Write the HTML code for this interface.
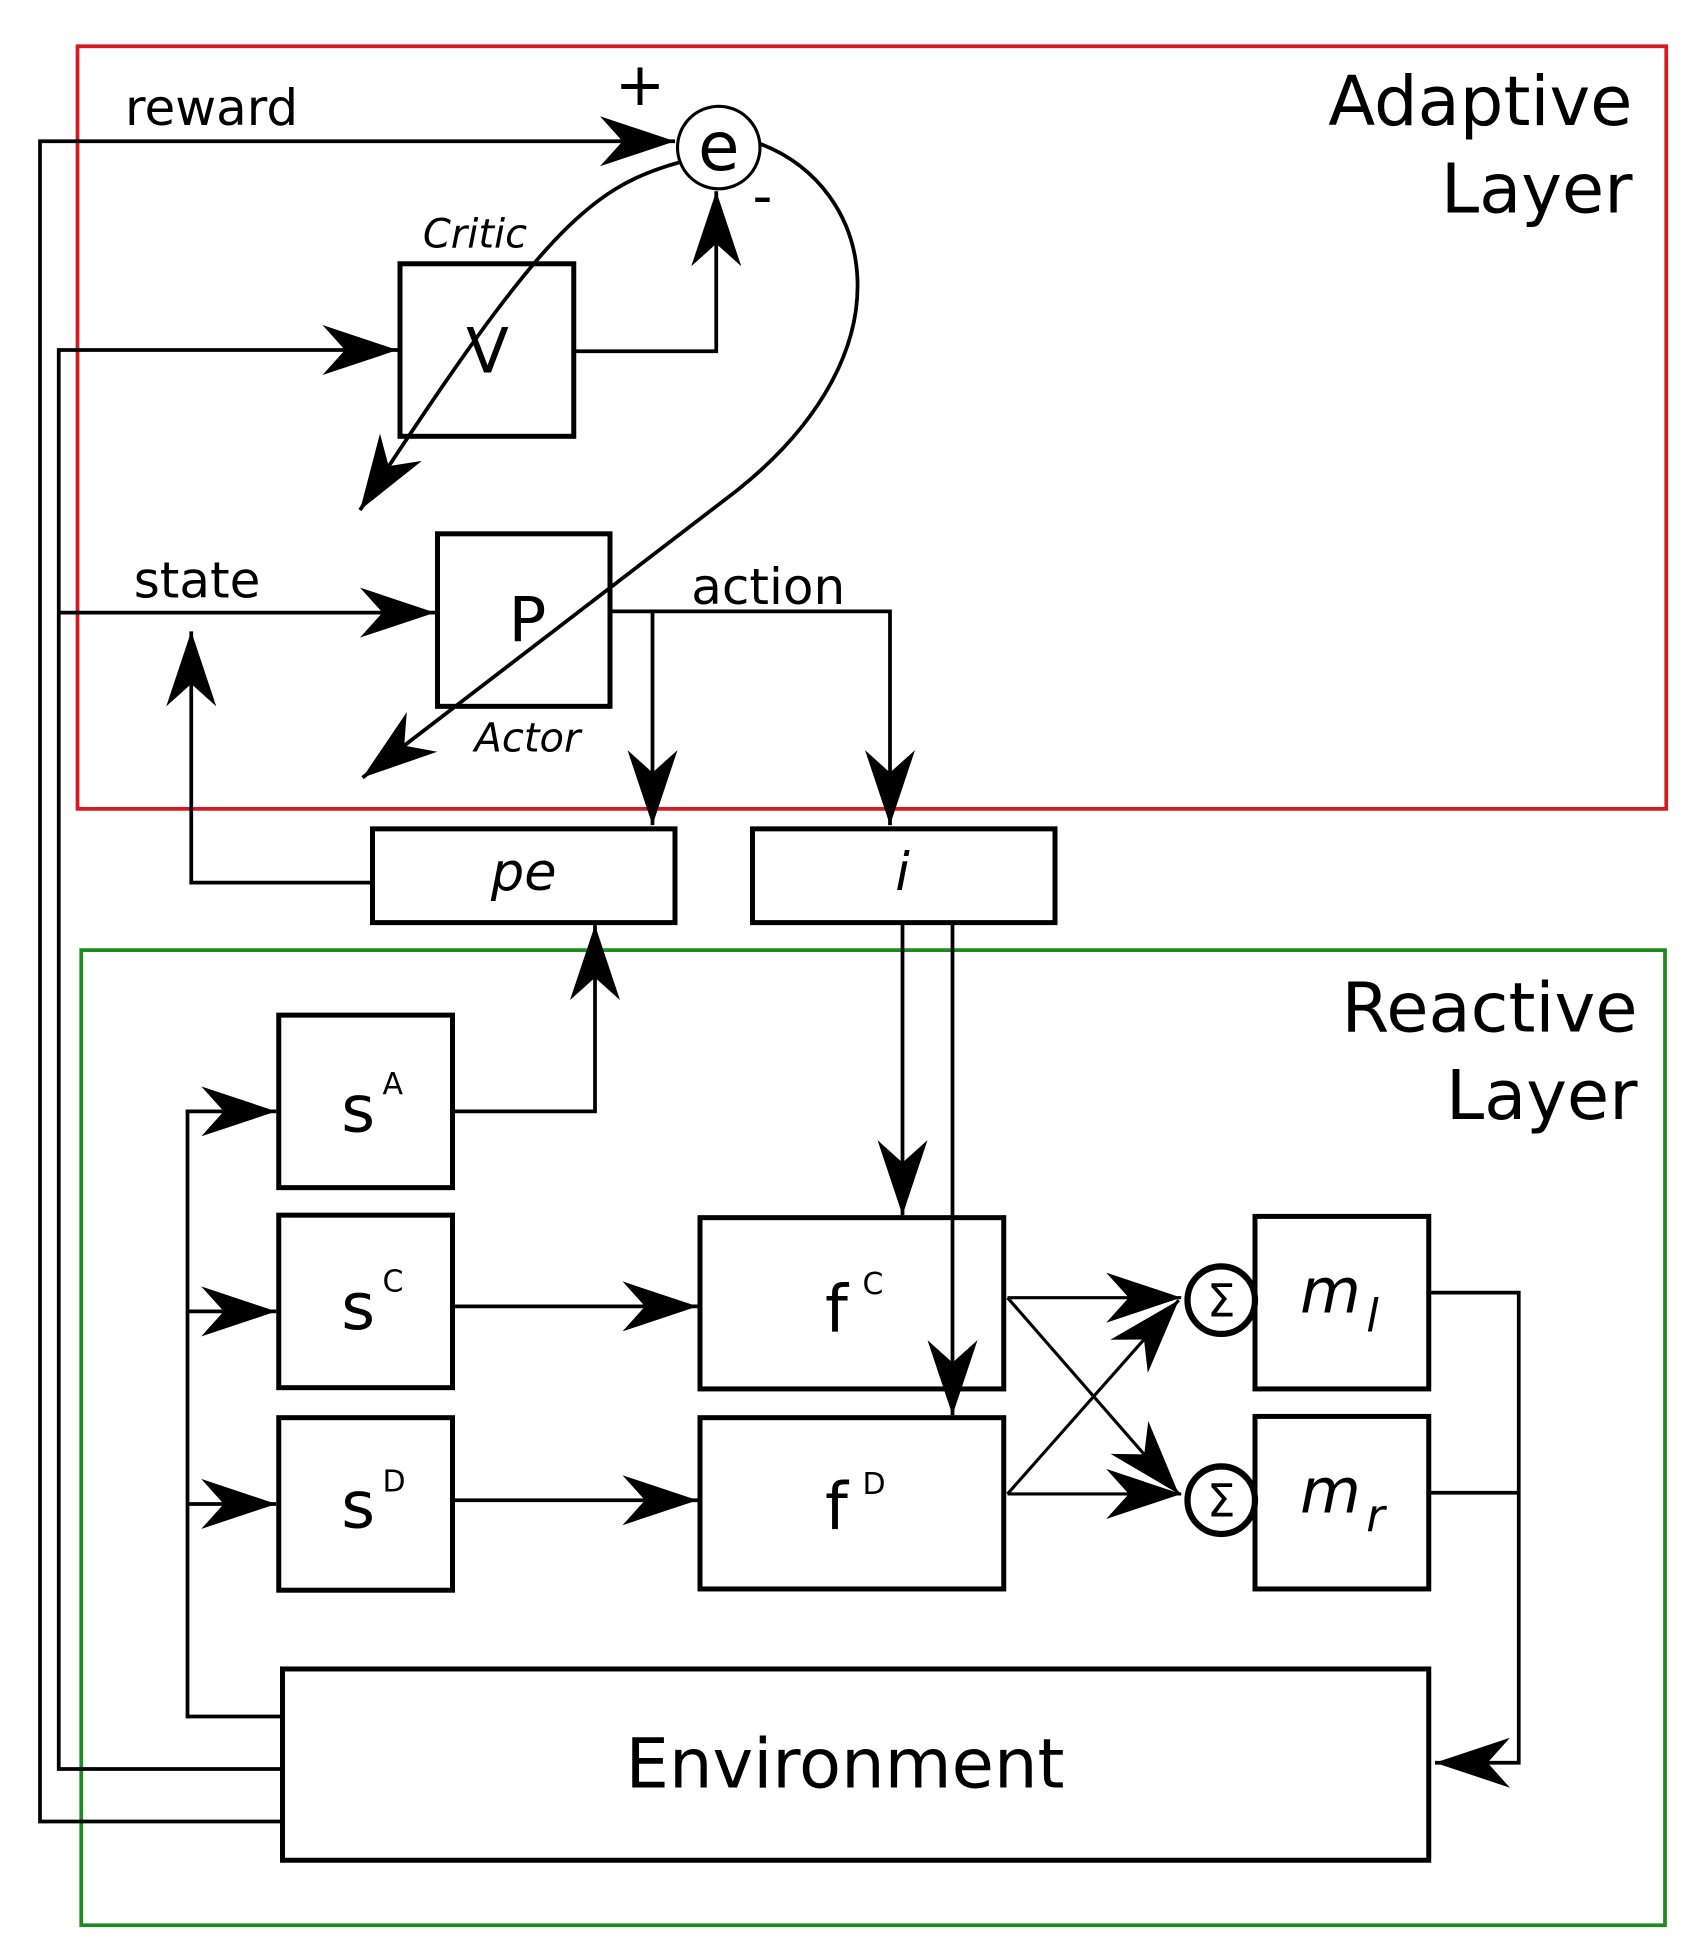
<!DOCTYPE html>
<html><head><meta charset="utf-8"><style>
html,body{margin:0;padding:0;background:#fff;}
svg{display:block;}
text{font-family:"DejaVu Sans","Liberation Sans",sans-serif;fill:#000;}
</style></head><body>
<svg width="1700" height="1959" viewBox="0 0 1360 1567" preserveAspectRatio="none" xmlns="http://www.w3.org/2000/svg">
<defs>
<marker id="a" markerUnits="userSpaceOnUse" markerWidth="70" markerHeight="44" refX="60" refY="22" orient="auto" viewBox="0 0 70 44">
<path d="M60,22 L0,2 L18,22 L0,42 Z" fill="#000"/>
</marker>
</defs>
<rect x="0" y="0" width="1360" height="1567" fill="#fff"/>
<rect x="62" y="37" width="1271" height="610" fill="none" stroke="#d61a1f" stroke-width="3"/>
<rect x="65" y="760" width="1267" height="780" fill="none" stroke="#1f8a1f" stroke-width="3"/>

<g fill="none" stroke="#000" stroke-width="3">
<polyline points="226,1457 32,1457 32,113 540,113" marker-end="url(#a)"/>
<polyline points="226,1415 47,1415 47,280 318,280" marker-end="url(#a)"/>
<polyline points="459,281 573,281 573,153" marker-end="url(#a)"/>
<path d="M543,130 C470,150 430,190 288,408" marker-end="url(#a)"/>
<path d="M608,115 C700,150 730,280 590,392 L290,622" marker-end="url(#a)"/>
<polyline points="48,490 348,490" marker-end="url(#a)"/>
<polyline points="488,489 712,489 712,660" marker-end="url(#a)"/>
<polyline points="522,489 522,660" marker-end="url(#a)"/>
<polyline points="298,706 153,706 153,505" marker-end="url(#a)"/>
<polyline points="362,889 476,889 476,740" marker-end="url(#a)"/>
<polyline points="226,1373 150,1373 150,889 221,889" marker-end="url(#a)"/>
<polyline points="150,1049 221,1049" marker-end="url(#a)"/>
<polyline points="150,1203 221,1203" marker-end="url(#a)"/>
<polyline points="362,1045 558,1045" marker-end="url(#a)"/>
<polyline points="362,1200 558,1200" marker-end="url(#a)"/>
<polyline points="722,738 722,972" marker-end="url(#a)"/>
<polyline points="762,738 762,1132" marker-end="url(#a)"/>
<polyline points="806,1038 945,1038" marker-end="url(#a)" stroke-width="2.5"/>
<polyline points="806,1195 945,1195" marker-end="url(#a)" stroke-width="2.5"/>
<polyline points="806,1038 943,1195" marker-end="url(#a)" stroke-width="2.5"/>
<polyline points="806,1195 943,1040" marker-end="url(#a)" stroke-width="2.5"/>
<polyline points="1143,1034 1215,1034 1215,1410 1148,1410" marker-end="url(#a)"/>
<polyline points="1143,1194 1215,1194"/>
</g>

<g fill="none" stroke="#000" stroke-width="4">
<rect x="320" y="211" width="139" height="138"/>
<rect x="350" y="427" width="138" height="138"/>
<rect x="298" y="663" width="242" height="75"/>
<rect x="602" y="663" width="242" height="75"/>
<rect x="223" y="812" width="139" height="138"/>
<rect x="223" y="972" width="139" height="138"/>
<rect x="223" y="1134" width="139" height="138"/>
<rect x="560" y="974" width="243" height="137"/>
<rect x="560" y="1134" width="243" height="137"/>
<rect x="1004" y="973" width="139" height="138"/>
<rect x="1004" y="1133" width="139" height="138"/>
<rect x="226" y="1335" width="917" height="153"/>
</g>
<circle cx="575" cy="118" r="33" fill="#fff" stroke="#000" stroke-width="2.5"/>
<circle cx="977" cy="1040" r="27" fill="#fff" stroke="#000" stroke-width="5"/>
<circle cx="977" cy="1200" r="27" fill="#fff" stroke="#000" stroke-width="5"/>

<text x="100" y="100" font-size="40">reward</text>
<text x="575" y="136" font-size="54" text-anchor="middle">e</text>
<text x="512" y="84" font-size="48" text-anchor="middle">+</text>
<text x="610" y="172" font-size="44" text-anchor="middle">-</text>
<text x="1306" y="100" font-size="55" text-anchor="end">Adaptive</text>
<text x="1306" y="170" font-size="55" text-anchor="end">Layer</text>
<text x="1310" y="825" font-size="55" text-anchor="end">Reactive</text>
<text x="1310" y="895" font-size="55" text-anchor="end">Layer</text>
<text x="380" y="198" font-size="32" font-style="italic" text-anchor="middle">Critic</text>
<text x="390" y="298" font-size="50" text-anchor="middle">V</text>
<text x="107" y="478" font-size="40">state</text>
<text x="422" y="513" font-size="50" text-anchor="middle">P</text>
<text x="422" y="601" font-size="32" font-style="italic" text-anchor="middle">Actor</text>
<text x="553" y="483" font-size="40">action</text>
<text x="419" y="712" font-size="42" font-style="italic" text-anchor="middle">pe</text>
<text x="722" y="712" font-size="42" font-style="italic" text-anchor="middle">i</text>
<text x="273" y="905" font-size="52">s</text><text x="306" y="875" font-size="24" font-family="Liberation Serif,serif">A</text>
<text x="273" y="1063" font-size="52">s</text><text x="306" y="1033" font-size="24" font-family="Liberation Serif,serif">C</text>
<text x="273" y="1222" font-size="52">s</text><text x="306" y="1193" font-size="24" font-family="Liberation Serif,serif">D</text>
<text x="660" y="1065" font-size="52">f</text><text x="690" y="1035" font-size="24" font-family="Liberation Serif,serif">C</text>
<text x="660" y="1223" font-size="52">f</text><text x="690" y="1195" font-size="24" font-family="Liberation Serif,serif">D</text>
<text x="977" y="1053" font-size="36" text-anchor="middle" font-family="Liberation Serif,serif">Σ</text>
<text x="977" y="1213" font-size="36" text-anchor="middle" font-family="Liberation Serif,serif">Σ</text>
<text x="1040" y="1050" font-size="50" font-style="italic" font-family="Liberation Serif,serif">m</text><text x="1093" y="1065" font-size="36" font-style="italic" font-family="Liberation Serif,serif">l</text>
<text x="1040" y="1210" font-size="50" font-style="italic" font-family="Liberation Serif,serif">m</text><text x="1093" y="1225" font-size="36" font-style="italic" font-family="Liberation Serif,serif">r</text>
<text x="676" y="1430" font-size="55" text-anchor="middle">Environment</text>
</svg>
</body></html>
